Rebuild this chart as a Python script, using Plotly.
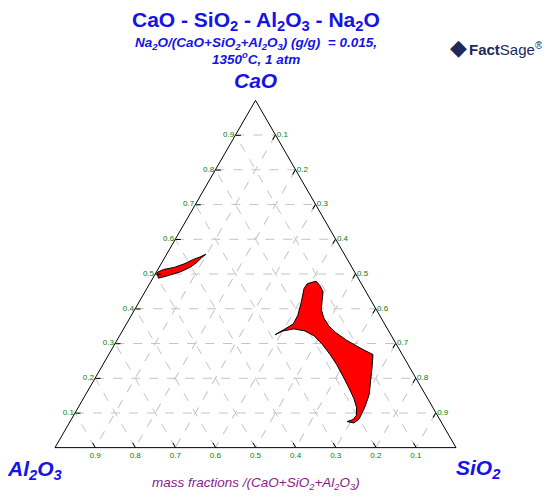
import plotly.graph_objects as go

# tick values shared by the three axes
tick_vals = [0.1, 0.2, 0.3, 0.4, 0.5, 0.6, 0.7, 0.8, 0.9]

# small liquid region near the CaO-Al2O3 edge (mass fractions)
small_cao = [0.504, 0.513, 0.519, 0.530, 0.542, 0.549, 0.557,
             0.547, 0.533, 0.519, 0.506, 0.494, 0.488, 0.504]
small_sio2 = [0.002, 0.014, 0.038, 0.059, 0.074, 0.087, 0.098,
              0.092, 0.087, 0.077, 0.059, 0.031, 0.014, 0.002]

# large liquid region in the silica rich part
big_cao = [0.325, 0.342, 0.356, 0.381, 0.418, 0.458, 0.472, 0.477, 0.479,
           0.466, 0.449, 0.427, 0.398, 0.373, 0.350, 0.331, 0.309, 0.292,
           0.281, 0.268, 0.229, 0.192, 0.153, 0.119, 0.098, 0.082, 0.071,
           0.075, 0.081, 0.093, 0.116, 0.141, 0.172, 0.206, 0.240, 0.268,
           0.299, 0.322, 0.336, 0.342, 0.336, 0.325]
big_sio2 = [0.386, 0.403, 0.416, 0.415, 0.405, 0.392, 0.393, 0.405, 0.412,
            0.428, 0.444, 0.453, 0.465, 0.484, 0.508, 0.535, 0.573, 0.607,
            0.630, 0.659, 0.676, 0.691, 0.707, 0.714, 0.716, 0.717, 0.710,
            0.691, 0.703, 0.705, 0.694, 0.675, 0.647, 0.615, 0.582, 0.552,
            0.516, 0.485, 0.455, 0.425, 0.401, 0.386]

BLUE = '#1414e6'
FONT = 'Liberation Sans, Arial, sans-serif'

fig = go.Figure()

for cao, sio2 in [(small_cao, small_sio2), (big_cao, big_sio2)]:
    fig.add_trace(
        go.Scatterternary(
            a=cao,
            c=sio2,
            mode='lines',
            fill='toself',
            fillcolor='#ff0000',
            line=dict(color='black', width=1),
            showlegend=False,
            hoverinfo='skip'
        )
    )

axis_style = dict(
    title=dict(text=''),
    tickvals=tick_vals,
    ticktext=[str(v) for v in tick_vals],
    tickfont=dict(family=FONT, size=8, color='#008000'),
    ticks='inside',
    ticklen=5,
    tickcolor='black',
    linecolor='black',
    linewidth=1,
    showgrid=True,
    gridcolor='#c4c4c4',
    griddash='dash',
    gridwidth=1,
    min=0
)

# the page body adds an 8px offset, so the margins are shifted up/left a bit
fig.update_layout(
    width=550,
    height=497,
    autosize=False,
    margin=dict(l=47, r=102, t=92, b=57),
    paper_bgcolor='white',
    font=dict(family=FONT),
    ternary=dict(
        sum=1,
        bgcolor='white',
        aaxis=axis_style,
        baxis=axis_style,
        caxis=axis_style,
    ),
)

annotations = [
    (0.5, 1.227, '<b>CaO - SiO<sub>2</sub> - Al<sub>2</sub>O<sub>3</sub> - Na<sub>2</sub>O</b>',
     21, BLUE),
    (0.5, 1.161, '<b><i>Na<sub>2</sub>O/(CaO+SiO<sub>2</sub>+Al<sub>2</sub>O<sub>3</sub>) '
                 '(g/g)  = 0.015,</i></b>', 13.5, BLUE),
    (0.5, 1.121, '<b><i>1350<sup>o</sup>C, 1 atm</i></b>', 13.5, BLUE),
    (0.5, 1.0546, '<b><i>CaO</i></b>', 21, BLUE),
    (-0.052, -0.063, '<b><i>Al<sub>2</sub>O<sub>3</sub></i></b>', 21, BLUE),
    (1.057, -0.060, '<b><i>SiO<sub>2</sub></i></b>', 21, BLUE),
    (0.5, -0.1006, '<i>mass fractions /(CaO+SiO<sub>2</sub>+Al<sub>2</sub>O<sub>3</sub>)</i>',
     13.5, '#8b1a8b'),
    (1.125, 1.147, '<b>Fact</b>Sage<sup>®</sup>', 15, '#1c2a5c'),
    (1.005, 1.150, '◆', 22, '#1c2a5c'),
]
for x, y, text, size, color in annotations:
    fig.add_annotation(
        x=x, y=y, xref='paper', yref='paper',
        text=text, showarrow=False,
        xanchor='center', yanchor='middle',
        font=dict(family=FONT, size=size, color=color)
    )

fig.write_html('out.html')
